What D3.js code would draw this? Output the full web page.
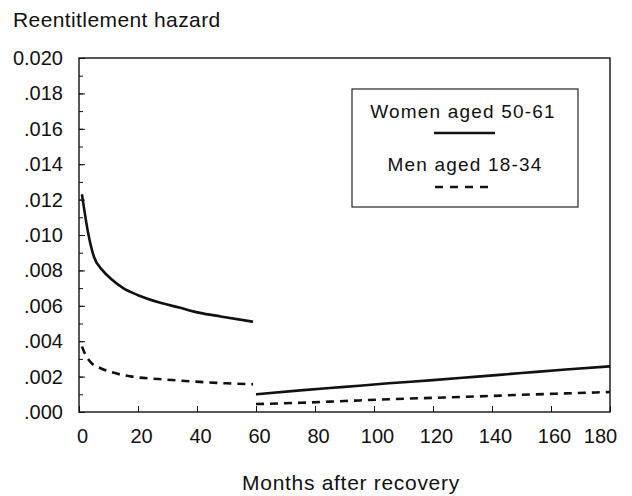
<!DOCTYPE html>
<html>
<head>
<meta charset="utf-8">
<script src="https://cdn.jsdelivr.net/npm/d3@7"></script>
<style>
  body { margin: 0; background: #fff; }
  svg text { font-family: "Liberation Sans", Arial, sans-serif; fill: #111; }
</style>
</head>
<body>
<div id="chart"></div>
<script>
  // months after recovery / reentitlement hazard
  var womenMonthsA = [1, 3, 5, 8, 11, 15, 20, 27, 34, 41, 48, 59];
  var womenHazardA = [0.0123, 0.0102, 0.0088, 0.0080, 0.0075, 0.0070, 0.0066, 0.0062, 0.0059, 0.0056, 0.0054, 0.0051];
  var womenMonthsB = [60, 75, 90, 105, 120, 135, 150, 165, 180];
  var womenHazardB = [0.00100, 0.00122, 0.00142, 0.00162, 0.00180, 0.00200, 0.00220, 0.00240, 0.00258];

  var menMonthsA = [1, 2, 4, 7, 11, 18, 28, 41, 50, 59];
  var menHazardA = [0.0037, 0.0033, 0.0028, 0.0025, 0.00225, 0.0020, 0.00185, 0.0017, 0.00162, 0.00157];
  var menMonthsB = [60, 75, 90, 105, 120, 135, 150, 165, 180];
  var menHazardB = [0.00045, 0.00052, 0.00062, 0.00072, 0.00080, 0.00088, 0.00097, 0.00105, 0.00113];

  var xTicks = [0, 20, 40, 60, 80, 100, 120, 140, 160, 180];
  var yTicks = [0, 0.002, 0.004, 0.006, 0.008, 0.010, 0.012, 0.014, 0.016, 0.018, 0.020];
  var yMinorTicks = d3.range(0, 21).map(function(d) { return d / 1000; });
  var legendLabels = ['Women aged 50-61', 'Men aged 18-34'];

  const W = 632, H = 496;
  const MARGIN = { TOP: 58, RIGHT: 22, BOTTOM: 84, LEFT: 79 };
  var width = W - MARGIN.LEFT - MARGIN.RIGHT;
  var height = H - MARGIN.TOP - MARGIN.BOTTOM;

  var svg = d3.select('#chart').append('svg')
    .attr('width', W)
    .attr('height', H);

  var g = svg.append('g')
    .attr('transform', 'translate(' + MARGIN.LEFT + ',' + MARGIN.TOP + ')');

  var x = d3.scaleLinear().domain([0, 180]).range([0, width]);
  var y = d3.scaleLinear().domain([0, 0.020]).range([height, 0]);

  // frame
  g.append('rect')
    .attr('width', width)
    .attr('height', height)
    .attr('fill', 'none')
    .attr('stroke', '#111')
    .attr('stroke-width', 1.4);

  // minor y ticks
  g.append('g')
    .call(d3.axisLeft(y).tickValues(yMinorTicks).tickSize(-4).tickFormat(''))
    .call(function(a) { a.select('.domain').remove(); })
    .selectAll('line').attr('stroke', '#111');

  var yAxis = g.append('g')
    .call(d3.axisLeft(y).tickValues(yTicks).tickSize(-6).tickPadding(16)
      .tickFormat(function(d) {
        var s = d3.format('.3f')(d);
        return d === 0.020 ? s : s.replace(/^0/, '');
      }));
  yAxis.select('.domain').remove();
  yAxis.selectAll('line').attr('stroke', '#111');
  yAxis.selectAll('text').style('font-size', '20px');

  var xAxis = g.append('g')
    .attr('transform', 'translate(0,' + height + ')')
    .call(d3.axisBottom(x).tickValues(xTicks).tickSize(-6).tickPadding(17));
  xAxis.select('.domain').remove();
  xAxis.selectAll('line').attr('stroke', '#111');
  xAxis.selectAll('text').style('font-size', '20px').attr('dx', 3);
  xAxis.selectAll('.tick').filter(function(d) { return d === 180; })
    .select('text').attr('dx', -10);

  // axis titles
  svg.append('text')
    .attr('x', 13)
    .attr('y', 27)
    .style('font-size', '21px')
    .style('letter-spacing', '0.4px')
    .text('Reentitlement hazard');

  svg.append('text')
    .attr('x', 351)
    .attr('y', 490)
    .attr('text-anchor', 'middle')
    .style('font-size', '21px')
    .style('letter-spacing', '0.7px')
    .text('Months after recovery');

  var line = d3.line()
    .x(function(d) { return x(d[0]); })
    .y(function(d) { return y(d[1]); })
    .curve(d3.curveMonotoneX);

  function pairs(ms, vs) {
    return ms.map(function(m, i) { return [m, vs[i]]; });
  }

  var series = [
    { data: pairs(womenMonthsA, womenHazardA), dash: null },
    { data: pairs(womenMonthsB, womenHazardB), dash: null },
    { data: pairs(menMonthsA, menHazardA), dash: '8,6' },
    { data: pairs(menMonthsB, menHazardB), dash: '8,6' }
  ];

  g.selectAll('.series')
    .data(series)
    .enter().append('path')
    .attr('class', 'series')
    .attr('d', function(d) { return line(d.data); })
    .attr('fill', 'none')
    .attr('stroke', '#111')
    .attr('stroke-width', 2.6)
    .attr('stroke-dasharray', function(d) { return d.dash; });

  // legend
  var legend = svg.append('g');
  legend.append('rect')
    .attr('x', 352).attr('y', 89)
    .attr('width', 226).attr('height', 118)
    .attr('fill', '#fff')
    .attr('stroke', '#111')
    .attr('stroke-width', 1.1);

  legend.append('text')
    .attr('x', 463).attr('y', 118)
    .attr('text-anchor', 'middle')
    .style('font-size', '19px')
    .style('letter-spacing', '1.2px')
    .text(legendLabels[0]);
  legend.append('line')
    .attr('x1', 434).attr('x2', 495)
    .attr('y1', 133).attr('y2', 133)
    .attr('stroke', '#111').attr('stroke-width', 2.6);

  legend.append('text')
    .attr('x', 465).attr('y', 171)
    .attr('text-anchor', 'middle')
    .style('font-size', '19px')
    .style('letter-spacing', '1.2px')
    .text(legendLabels[1]);
  legend.append('line')
    .attr('x1', 435).attr('x2', 489)
    .attr('y1', 187).attr('y2', 187)
    .attr('stroke', '#111').attr('stroke-width', 2.6)
    .attr('stroke-dasharray', '8,7');
</script>
</body>
</html>
